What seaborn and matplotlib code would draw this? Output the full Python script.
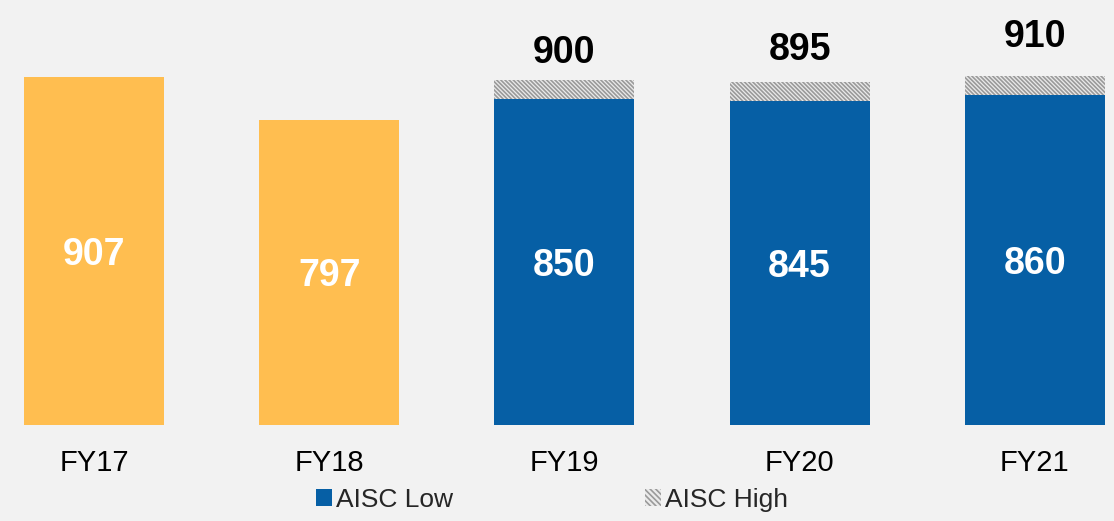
import matplotlib
matplotlib.use("Agg")
import matplotlib.pyplot as plt
from matplotlib.patches import Patch
import seaborn as sns
import pandas as pd

categories = ["FY17", "FY18", "FY19", "FY20", "FY21"]
low_values = [907, 797, 850, 845, 860]
high_values = [907, 797, 900, 895, 910]
is_guidance = [False, False, True, True, True]

ORANGE = "#FFBE50"
BLUE = "#065FA5"
BG = "#F2F2F2"
HATCH_FACE = "#EBEBEB"
HATCH_COLOR = "#9A9A9A"

sns.set_theme(style="white")
plt.rcParams["font.family"] = ["Liberation Sans", "DejaVu Sans"]
plt.rcParams["hatch.linewidth"] = 1.2
plt.rcParams["hatch.color"] = HATCH_COLOR

df = pd.DataFrame({"cat": categories, "low": low_values, "high": high_values})

fig = plt.figure(figsize=(11.14, 5.21), dpi=100, facecolor=BG)
ax = fig.add_axes([0, 96 / 521, 1, 425 / 521])
ax.set_facecolor(BG)

# High (hatched) bars drawn first, then low bars over them
sns.barplot(data=df, x="cat", y="high", ax=ax, width=0.595,
            color=HATCH_FACE, saturation=1, edgecolor="none", linewidth=0)
for p, g in zip(ax.patches, is_guidance):
    if g:
        p.set_hatch("\\\\\\\\\\\\\\\\")
        p.set_edgecolor(HATCH_COLOR)
        p.set_linewidth(0)
    else:
        p.set_visible(False)

low_colors = [BLUE if g else ORANGE for g in is_guidance]
sns.barplot(data=df, x="cat", y="low", hue="cat", palette=low_colors, ax=ax,
            width=0.595, saturation=1, edgecolor="none", linewidth=0, legend=False)

ax.set_xlim(-94 / 235.2, (1114 - 94) / 235.2)
ax.set_ylim(0, 425 / 0.3833)

# inside labels
for i, v in enumerate(low_values):
    ax.annotate(f"{v}", xy=(i, v / 2), xytext=(0, -3), textcoords="offset points",
                ha="center", va="center", color="white",
                fontsize=27, fontweight="bold")

# top labels
offsets = [9, 14, 21]
k = 0
for i, (v, g) in enumerate(zip(high_values, is_guidance)):
    if g:
        ax.annotate(f"{v}", xy=(i, v), xytext=(0, offsets[k] * 0.72),
                    textcoords="offset points", ha="center", va="bottom",
                    fontsize=27, fontweight="bold", color="black")
        k += 1

ax.set_xlabel("")
ax.set_ylabel("")
ax.set_yticks([])
ax.tick_params(axis="x", length=0, labelsize=21, pad=17, colors="black")
for s in ax.spines.values():
    s.set_visible(False)

handles = [Patch(facecolor=BLUE, edgecolor="none", label="AISC Low"),
           Patch(facecolor=HATCH_FACE, edgecolor=HATCH_COLOR, hatch="\\\\\\\\\\\\",
                 linewidth=0, label="AISC High")]
fig.legend(handles=handles, loc="center", bbox_to_anchor=(552 / 1114, 21 / 521),
           ncol=2, frameon=False, fontsize=19, handlelength=0.6, handleheight=0.6,
           handletextpad=0.15, columnspacing=7.3, borderaxespad=0)

fig.savefig("out.png", dpi=100, facecolor=BG)
